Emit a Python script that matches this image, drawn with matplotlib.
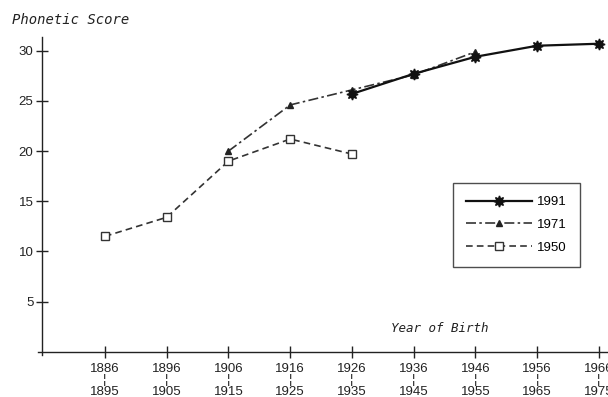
import matplotlib
matplotlib.use("Agg")
import matplotlib.pyplot as plt

# ---- data ----
cohort_start = ["1886", "1896", "1906", "1916", "1926", "1936", "1946", "1956", "1966"]
cohort_end = ["1895", "1905", "1915", "1925", "1935", "1945", "1955", "1965", "1975"]
y_ticks = [5, 10, 15, 20, 25, 30]

idx_1950 = [0, 1, 2, 3, 4]
val_1950 = [11.5, 13.4, 19.0, 21.2, 19.7]

idx_1971 = [2, 3, 4, 5, 6]
val_1971 = [20.0, 24.6, 26.1, 27.6, 29.9]

idx_1991 = [4, 5, 6, 7, 8]
val_1991 = [25.7, 27.7, 29.4, 30.5, 30.7]

narrow = ["Liberation Sans", "DejaVu Sans"]
mono = ["DejaVu Sans Mono"]

fig = plt.figure(figsize=(6.08, 3.97), dpi=100)
ax = fig.add_axes([41.7 / 608, (397 - 351.7) / 397, (608 - 41.7) / 608, (351.7 - 37) / 397])

ax.plot(idx_1950, val_1950, color="#333333", lw=1.2, ls=(0, (4, 2.5)),
        marker="s", ms=5.5, mfc="white", mec="#333333", mew=1.0, label="1950", zorder=2)
ax.plot(idx_1971, val_1971, color="#333333", lw=1.2, ls=(0, (6, 2, 1.5, 2)),
        marker="^", ms=5, mfc="#222222", mec="#222222", label="1971", zorder=3)
ax.plot(idx_1991, val_1991, color="#111111", lw=1.6, ls="-",
        marker=(8, 1, 0), ms=8, mfc="#111111", mec="#111111", label="1991", zorder=4)

ax.set_xlim(-1.025, 8.146)
ax.set_ylim(0, 31.37)

for s in ["top", "right"]:
    ax.spines[s].set_visible(False)
ax.spines["left"].set_bounds(-0.35, 31.37)
ax.spines["bottom"].set_bounds(-1.09, 8.146)
for s in ["left", "bottom"]:
    ax.spines[s].set_linewidth(1.0)
    ax.spines[s].set_color("#222222")

ax.set_xticks(range(len(cohort_start)))
ax.set_xticklabels([f"{a}\n\u00a6\n{b}" for a, b in zip(cohort_start, cohort_end)],
                   family=narrow, fontsize=9.5, linespacing=0.95, color="#222222")
ax.set_yticks(y_ticks)
ax.set_yticklabels([str(v) for v in y_ticks], family=narrow, fontsize=9.5, color="#222222")
ax.tick_params(axis="both", direction="inout", length=8, width=1.0, color="#222222")
ax.tick_params(axis="x", pad=4)
ax.tick_params(axis="y", pad=2)

handles, labels = ax.get_legend_handles_labels()
order = [2, 1, 0]
leg = ax.legend([handles[i] for i in order], [labels[i] for i in order],
                loc="upper left", bbox_to_anchor=(453 / 608, 1 - 182.7 / 397),
                bbox_transform=fig.transFigure, frameon=True, fancybox=False,
                edgecolor="#222222", handlelength=5.0, handletextpad=0.4,
                borderpad=1.0, labelspacing=0.8, borderaxespad=0,
                prop={"family": narrow, "size": 9.5})
leg.get_frame().set_linewidth(1.0)

fig.text(12 / 608, 1 - 24 / 397, "Phonetic Score", family=mono, style="italic",
         fontsize=10, va="baseline", ha="left", color="#222222")
fig.text(390.7 / 608, 1 - 332 / 397, "Year of Birth", family=mono, style="italic",
         fontsize=9, va="baseline", ha="left", color="#222222")

fig.savefig("out.png", dpi=100)
